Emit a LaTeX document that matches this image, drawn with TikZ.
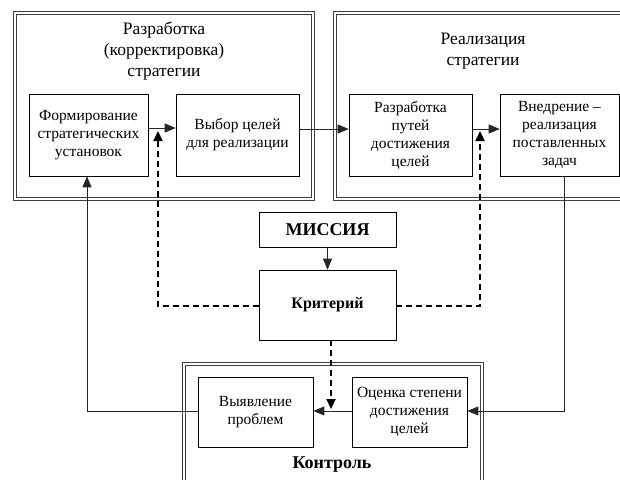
\documentclass[tikz,border=0pt]{standalone}
\usepackage{fontspec}
\setmainfont{Liberation Serif}
\usetikzlibrary{arrows.meta,positioning}

\begin{document}
\begin{tikzpicture}[x=1pt, y=-1pt,
    frame/.style={draw=black!75, double=white, double distance=1.8pt, line width=1.1pt},
    blk/.style={draw, line width=0.6pt, align=center, inner sep=2pt,
        font=\fontsize{15.5}{18}\selectfont},
    link/.style={-{Triangle[length=11pt,width=9pt]}, black!85, line width=0.7pt},
    crit/.style={-{Triangle[length=10pt,width=9pt]}, line width=2.2pt, dash pattern=on 6pt off 4pt}
]
    \clip (0,0) rectangle (620,479);

    % Outer frames
    \draw[frame] (15,13) rectangle (313,199);
    \draw[frame] (335,13) rectangle (640,199);
    \draw[frame] (184,364) rectangle (482,500);

    % Frame titles
    \node[align=center, font=\fontsize{17.5}{21}\selectfont] (t1) at (164,51) {Разработка\\(корректировка)\\стратегии};
    \node[align=center, font=\fontsize{17.5}{21}\selectfont] (t2) at (483,51) {Реализация\\стратегии};
    \node[font=\fontsize{18}{21}\selectfont\bfseries] (t3) at (332,465) {Контроль};

    % Blocks
    \node[blk, minimum width=119, minimum height=82] (form) at (88.5,135) {Формирование\\стратегических\\установок};
    \node[blk, minimum width=123, minimum height=82] (vybor) at (237.5,135) {Выбор целей\\для реализации};
    \node[blk, minimum width=123, minimum height=82] (razr) at (410.5,135) {Разработка\\путей\\достижения\\целей};
    \node[blk, minimum width=119, minimum height=82] (vnedr) at (559.5,135) {Внедрение –\\реализация\\поставленных\\задач};
    \node[blk, minimum width=137, minimum height=35, font=\fontsize{18}{21}\selectfont\bfseries] (mission) at (327.5,229.5) {МИССИЯ};
    \node[blk, minimum width=137, minimum height=70, font=\fontsize{16}{18}\selectfont\bfseries] (krit) at (327.5,305) {Критерий};
    \node[blk, minimum width=115, minimum height=70] (vyyav) at (255.5,412) {Выявление\\проблем};
    \node[blk, minimum width=115, minimum height=70] (ocenka) at (409.5,412) {Оценка степени\\достижения\\целей};

    % Helper points
    \coordinate (kl) at (158,306);
    \coordinate (kr) at (480,306);
    \coordinate (ku) at (331,340);
    \coordinate (vd) at (564,411);
    \coordinate (fl) at (87,411);

    % Solid connectors
    \draw[link] ([yshift=7pt]form.east) -- ([yshift=7pt]vybor.west);
    \draw[link] ([yshift=6pt]vybor.east) -- ([yshift=6pt]razr.west);
    \draw[link] ([yshift=6pt]razr.east) -- ([yshift=6pt]vnedr.west);
    \draw[link] (mission) -- (krit);
    \draw[link] (vnedr.south -| vd) -- (vd) -- (ocenka.east |- vd);
    \draw[link] (ocenka.west |- vd) -- (vyyav.east |- vd);
    \draw[link] (vyyav.west |- fl) -- (fl) -- (form.south -| fl);

    % Dashed criterion links
    \draw[crit] (krit.west |- kl) -- (kl) -- (158,131);
    \draw[crit] (krit.east |- kr) -- (kr) -- (480,131);
    \draw[crit] (krit.south -| ku) -- (331,409);
\end{tikzpicture}
\end{document}
